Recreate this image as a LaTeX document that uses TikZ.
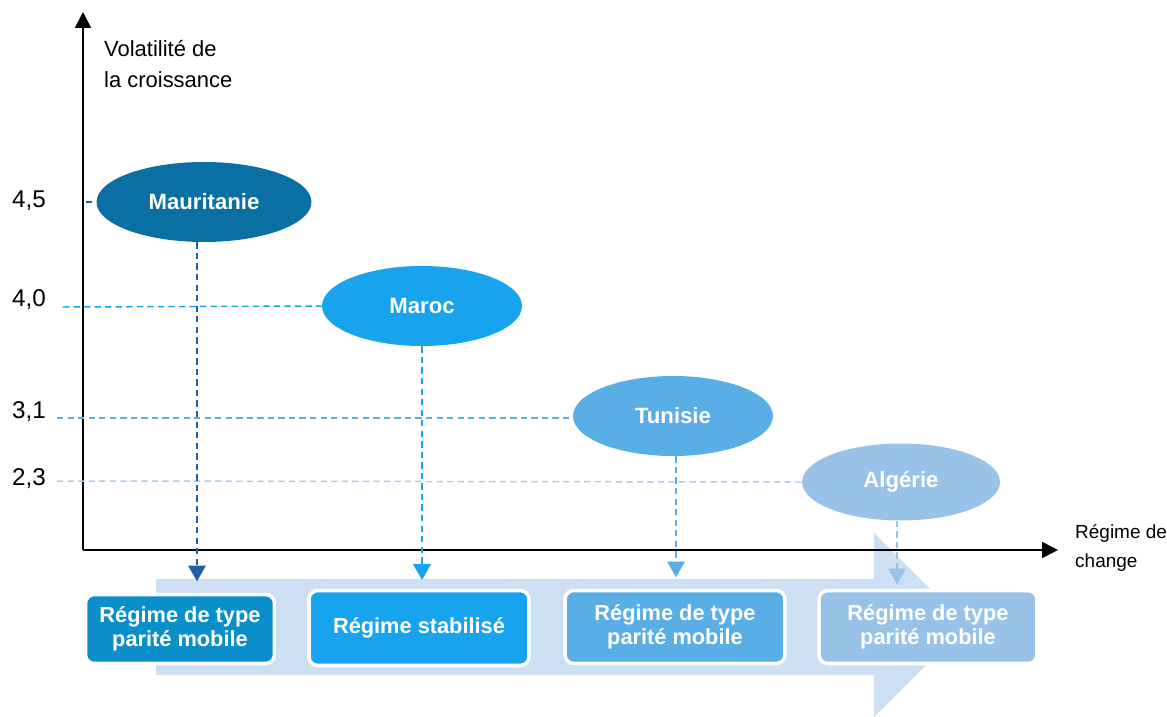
\documentclass[tikz,border=0pt]{standalone}
\usepackage{fontspec}
\setmainfont{Liberation Sans}
\usetikzlibrary{arrows.meta,shapes.geometric}
\definecolor{mauC}{HTML}{0A6FA3}
\definecolor{mauL}{HTML}{1F5FA8}
\definecolor{mauB}{HTML}{0A8FCB}
\definecolor{marC}{HTML}{17A3EE}
\definecolor{tunC}{HTML}{5AAEE6}
\definecolor{algC}{HTML}{98C2E8}
\definecolor{algL}{HTML}{A9CDEF}
\definecolor{bandC}{HTML}{CCDFF3}
\begin{document}
\begin{tikzpicture}[x=0.02cm,y=-0.02cm,
        country/.style={ellipse,text=white,inner sep=0pt,minimum height=1.6cm,
            font=\fontsize{12.6}{14}\selectfont\bfseries},
        regime/.style={rounded corners=5pt,draw=white,line width=2pt,text=white,
            align=center,inner sep=0pt,font=\fontsize{12.4}{13.4}\selectfont\bfseries},
        guide/.style={dash pattern=on 3.6pt off 2.4pt,line width=0.85pt},
        down/.style={guide,-{Triangle[width=10pt,length=9pt]}},
        axis/.style={line width=0.9pt,-{Triangle[width=9pt,length=9pt]}},
        ticklab/.style={anchor=west,font=\fontsize{13.8}{16}\selectfont}]
                \useasboundingbox (0,0) rectangle (1167,717);
                \fill[bandC] (156,579) -- (874,579) -- (874,533) -- (966,625) -- (874,717) -- (874,675) -- (156,675) -- cycle;
                \coordinate (o) at (83,550);
                \coordinate (ytop) at (83,12);
                \coordinate (xend) at (1058,550);
                \draw[axis] (o) -- (ytop);
                \draw[axis] (o) -- (xend);
                \node[anchor=west,align=left,font=\fontsize{12.5}{18}\selectfont] (ylab) at (98,64) {Volatilité de\\la croissance};
                \node[anchor=west,align=left,font=\fontsize{10.8}{16}\selectfont] (xlab) at (1069,548) {Régime de\\change};
                \node[ticklab] (t45) at (6,201) {4,5};
                \node[ticklab] (t40) at (6,300) {4,0};
                \node[ticklab] (t31) at (6,412) {3,1};
                \node[ticklab] (t23) at (6,479) {2,3};
                \node[country,fill=mauC,minimum width=4.3cm] (mau) at (204,202) {Mauritanie};
                \node[country,fill=marC,minimum width=4cm] (mar) at (422,306) {Maroc};
                \node[country,fill=tunC,minimum width=4cm] (tun) at (673,416) {Tunisie};
                \node[country,fill=algC,minimum width=3.96cm,minimum height=1.54cm] (alg) at (901,482) {Algérie};
                \node[regime,fill=mauB,minimum width=3.78cm,minimum height=1.38cm] (bmau) at (180,629) {Régime de type\\parité mobile};
                \node[regime,fill=marC,minimum width=4.4cm,minimum height=1.5cm] (bmar) at (419,628) {Régime stabilisé};
                \node[regime,fill=tunC,minimum width=4.4cm,minimum height=1.46cm] (btun) at (675,627) {Régime de type\\parité mobile};
                \node[regime,fill=algC,minimum width=4.36cm,minimum height=1.46cm] (balg) at (928,627) {Régime de type\\parité mobile};
                \coordinate (h45) at (86,202);
                \coordinate (h40) at (63,307);
                \coordinate (h31) at (57,418);
                \coordinate (h23) at (57,481);
                \draw[guide,mauL] (h45) -- (mau.west);
                \draw[guide,marC] (h40) -- (mar.west);
                \draw[guide,tunC] (h31) -- (h31 -| tun.west);
                \draw[guide,algL] (h23) -- (alg.west);
                \draw[down,mauL,shorten >=6.5pt] ([xshift=-0.14cm]mau.south) -- ([xshift=-0.14cm]mau.south |- bmau.north);
                \draw[down,marC,shorten >=5pt] (mar.south) -- (mar.south |- bmar.north);
                \draw[down,tunC,shorten >=6.5pt] ([xshift=0.06cm]tun.south) -- ([xshift=0.06cm]tun.south |- btun.north);
                \draw[down,algC,shorten >=2.5pt] ([xshift=-0.08cm]alg.south) -- ([xshift=-0.08cm]alg.south |- balg.north);
            \end{tikzpicture}
\end{document}
